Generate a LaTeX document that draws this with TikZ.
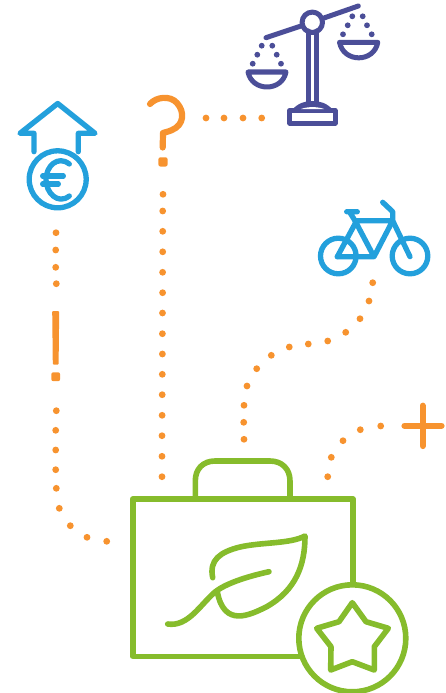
\documentclass[tikz,border=0pt]{standalone}
\definecolor{myorange}{HTML}{F7932F}
\definecolor{mygreen}{HTML}{86BC2C}
\definecolor{myblue}{HTML}{23A0DC}
\definecolor{mypurple}{HTML}{4B4E98}
\tikzset{
  icon/.style={line cap=round,line join=round,line width=#1},
  icon/.default=4.5pt,
  orangeline/.style={icon=6.2pt,draw=myorange},
  greenline/.style={icon=5.6pt,draw=mygreen},
  blueline/.style={icon=5.3pt,draw=myblue},
  purpleline/.style={icon=5pt,draw=mypurple},
}
\newcommand{\orangedots}[1]{\foreach \px/\py in {#1} \fill[myorange] (\px,\py) circle[radius=3.4pt];}
\begin{document}
\begin{tikzpicture}[x=1pt,y=-1pt]
\useasboundingbox (0,0) rectangle (446,693);
% dotted trails
\orangedots{206/118,224/118,243/118,261.7/118}
\orangedots{163/194.3,162.7/211,162.7/231.3,162.7/251.8,162.6/272.3,162.6/292.7,162.5/313,162.4/333.7,162.4/354,162.3/374.3,162.2/394.7,162.1/415.3,162/435.7,162/456.3,162/476.7}
\orangedots{56/232.7,55.7/250,55.7/267.3,56.3/283.7,56.3/410.7,55.7/430.3,55.7/450,55.7/469.7,56.3/488.3,59.3/508.3,70.3/525.7,87/537.3,106.7/541.3}
\orangedots{372.7/282.7,369/301,360/318.7,345.7/332.3,327.7/341,308.3/344,289.3/347,271.3/355.3,256.7/368.7,247/386,244/405.3,243.7/422.3,244/439.3}
\orangedots{380.7/426,360.3/429.7,343/440.7,331.3/457.3,327.7/476.7}
% exclamation mark
\fill[myorange,rounded corners=1pt] (52.2,311) -- (59.2,311) -- (58.6,364.7) -- (52.8,364.7) -- cycle;
\fill[myorange,rounded corners=2pt] (51.3,372.3) rectangle (60.1,381.2);
% question mark
\draw[orangeline] (150,104) .. controls (156,97) and (170,95) .. (177,103) .. controls (185,112) and (184,125) .. (172,130) .. controls (168,132) and (165,132) .. (163,133) -- (162.7,147.5);
\fill[myorange,rounded corners=2pt] (158.4,157.3) rectangle (167.6,166.5);
% plus
\draw[orangeline] (404.5,425.7) -- (441.5,425.7) (422.7,405.7) -- (422.7,446);
% balance
\begin{scope}[purpleline]
\draw (266,37.7) -- (302.5,25.5) (322.5,18.5) -- (358.3,6);
\draw (312.3,22.3) circle[radius=10.2pt];
\draw (308.3,31) -- (308.3,103) (316.7,31) -- (316.7,103);
\draw (289.8,110.7) rectangle (335.2,123);
\fill[mypurple] (292,110) .. controls (298,103) and (305,101) .. (312.3,101) .. controls (320,101) and (327,103) .. (333,110) -- cycle;
\fill[white] (301,109) .. controls (307,106.5) and (318,106.5) .. (324,109) -- cycle;
\draw (248,72) -- (286,72) .. controls (282,92) and (252,92) .. (248,72) -- cycle;
\draw (339.5,42.3) -- (377.8,42.3) .. controls (374,63) and (343.5,63) .. (339.5,42.3) -- cycle;
\end{scope}
\foreach \px/\py in {261.7/45.7,272.3/45.7,257.3/54.7,276.7/54.7,252.7/63.7,281/63.7,352.3/16.3,362.7/16.3,347.7/25.3,367/25.3,343/34.3,371.7/34.3}
  \fill[mypurple] (\px,\py) circle[radius=2.9pt];
% euro arrow
\begin{scope}[blueline]
\draw (34,151.7) -- (34,133.3) -- (20,133.3) -- (57.7,103.5) -- (95,133.3) -- (78.3,133.3) -- (78.3,151.7);
\draw (57.7,179.3) circle[radius=28.5pt];
\draw (69.3,164) .. controls (58,155) and (46,166) .. (46,179.5) .. controls (46,193) and (58,205) .. (69.3,196);
\draw (42.7,176) -- (63.3,176) (42.7,184) -- (58.3,184);
\end{scope}
% bicycle
\begin{scope}[blueline]
\draw (338.3,256) circle[radius=17.8pt];
\draw (410,256) circle[radius=17.8pt];
\draw (337.3,256.7) -- (374,256.7) -- (392.7,220.7) -- (355,220.7) -- (374,256.7);
\draw (337.3,256.7) -- (356,222);
\draw (346.7,211.7) -- (357.3,211.7) (350,212.7) -- (355,220.7);
\draw (382.7,202.3) -- (392.7,211.7) -- (392.7,220.7) -- (410,256.7);
\end{scope}
% briefcase
\begin{scope}[greenline]
\draw (195.3,499) -- (195.3,481) .. controls (195.3,469) and (203,461) .. (215,461) -- (270,461) .. controls (282,461) and (290,469) .. (290,481) -- (290,499);
\draw (132.7,499) rectangle (353,656.3);
\draw (212.7,577.7) .. controls (209,560) and (220,552) .. (240,547) .. controls (262,542) and (290,544) .. (305,536) .. controls (305,565) and (296,590) .. (266.7,606.7) .. controls (250,615) and (224,628) .. (217.3,591.7);
\draw (269,571.7) .. controls (245,577) and (225,584) .. (215,592) .. controls (200,605) and (188,627) .. (167.7,624);
\filldraw[fill=white] (352.3,638.3) circle[radius=53.5pt];
\draw (352.3,602.7) -- (366,621.7) -- (388.3,628.3) -- (374.3,646.7) -- (374.3,670) -- (352.3,661.7) -- (330.7,670) -- (331,646.7) -- (316.7,628.3) -- (339,621.7) -- cycle;
\end{scope}
\end{tikzpicture}
\end{document}
